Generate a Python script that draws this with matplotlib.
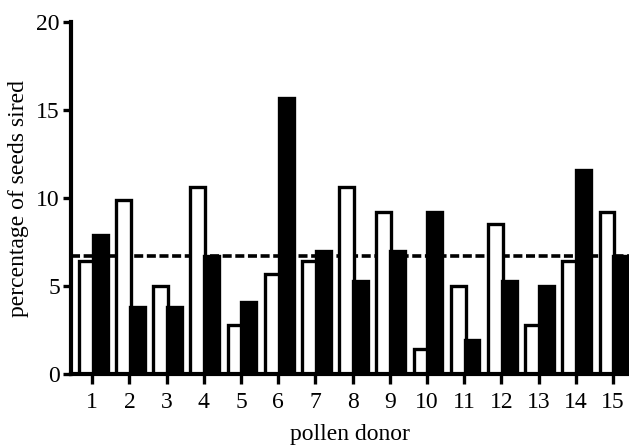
import numpy as np
import matplotlib.pyplot as plt

plt.rcParams['font.family'] = ['Liberation Serif', 'DejaVu Serif']

donors = list(range(1, 16))
# open bars and filled bars, percentage of seeds sired
open_vals = [6.4, 9.9, 5.0, 10.6, 2.8, 5.7, 6.4, 10.6, 9.2, 1.4, 5.0, 8.5, 2.8, 6.4, 9.2]
filled_vals = [7.9, 3.8, 3.8, 6.7, 4.1, 15.7, 7.0, 5.3, 7.0, 9.2, 1.9, 5.3, 5.0, 11.6, 6.7]
expected = 6.7  # dashed line

fig = plt.figure(figsize=(6.29, 4.45), dpi=100)
ax = fig.add_axes([0.113, 0.16, 0.887, 0.79])

x = np.array(donors)
w = 0.40
ax.axhline(expected, color='black', lw=2.6, linestyle=(0, (2.5, 1.0)), zorder=1)
ax.bar(x - 0.16, open_vals, width=w, color='white', edgecolor='black', linewidth=2.4, zorder=2)
ax.bar(x + 0.21, filled_vals, width=w, color='black', edgecolor='black', linewidth=2.4, zorder=3)

ax.set_xlim(0.43, 15.43)
ax.set_ylim(0, 20)
ax.set_xticks(donors)
ax.set_yticks([0, 5, 10, 15, 20])

for side in ['top', 'right']:
    ax.spines[side].set_visible(False)
for side in ['left', 'bottom']:
    ax.spines[side].set_linewidth(3.0)
ax.spines['left'].set_zorder(4)
ax.spines['bottom'].set_zorder(4)

ax.tick_params(axis='both', length=6, width=2.4, labelsize=17, pad=2)
ax.tick_params(axis='x', length=7.5, pad=5.5)

ax.set_xlabel('pollen donor', fontsize=17, labelpad=8)
ax.set_ylabel('percentage of seeds sired', fontsize=17, labelpad=5)

fig.savefig('out.png', dpi=100)
